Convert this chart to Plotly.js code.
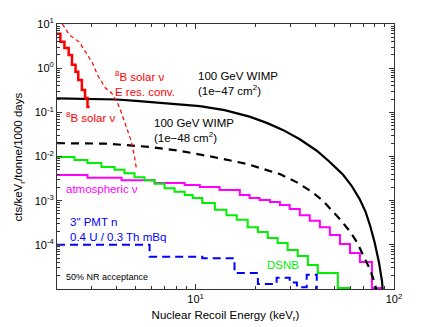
<!DOCTYPE html>
<html>
<head>
<meta charset="utf-8">
<script src="https://cdn.plot.ly/plotly-3.0.1.min.js"></script>
<style>
  body { margin: 0; background: #fff; }
  #plot { width: 436px; height: 327px; }
</style>
</head>
<body>
<div id="plot"></div>
<script>
// 100 GeV WIMP, 1e-47 cm2 (solid black)
let wimp47E = [2.0, 3.0, 4.0, 5.0, 6.0, 8.0, 10.5, 14, 18.7, 23, 27.5, 33.5, 40.8, 47, 55, 61, 67, 72, 76, 80, 84, 87, 88.5];
let wimp47R = [0.206, 0.204, 0.195, 0.182, 0.170, 0.155, 0.138, 0.112, 0.080, 0.057, 0.040, 0.0245, 0.0135, 0.0078, 0.0040, 0.0022, 0.0011, 5.5e-4, 2.6e-4, 1.1e-4, 4e-5, 1.5e-5, 6e-6];

// 100 GeV WIMP, 1e-48 cm2 (dashed black)
let wimp48E = [2.0, 3.5, 5.86, 8.3, 12.2, 18.1, 26.6, 32.4, 38, 43.8, 53.4, 60, 65, 70, 75.6, 79, 82];
let wimp48R = [0.0200, 0.0196, 0.0165, 0.0135, 0.0098, 0.0068, 0.0040, 0.0026, 0.00165, 0.00100, 3.8e-4, 2.0e-4, 1.15e-4, 5.5e-5, 2.8e-5, 1.6e-5, 9e-6];

// 8B solar neutrinos (solid red histogram)
let b8E = [2.0, 2.08, 2.18, 2.29, 2.38, 2.48, 2.56, 2.67, 2.77, 2.85, 2.92];
let b8R = [6.0, 3.97, 2.85, 1.99, 1.2, 0.83, 0.54, 0.32, 0.21, 0.132, 0.132];

// 8B solar neutrinos, energy resolution convolved (thin dashed red)
let b8convE = [2.13, 2.31, 2.59, 2.75, 3.02, 3.20, 3.51, 3.77, 4.04, 4.23, 4.43, 4.59, 4.75, 4.92, 5.04];
let b8convR = [10, 5.64, 3.91, 2.58, 1.31, 0.70, 0.355, 0.274, 0.163, 0.0966, 0.0544, 0.034, 0.0213, 0.00975, 0.00496];

// atmospheric neutrinos (magenta)
let atmE = [2.0, 2.85, 4.23, 6.21, 8.8, 10.5, 13.2, 16.7, 18.7, 21.0, 23.7, 26.6, 29.8, 33.5, 37.6, 42.3, 47.5, 53.4, 60.0, 67.3, 77.4, 87.9];
let atmR = [0.0038, 0.0033, 0.0029, 0.0025, 0.00226, 0.00204, 0.00175, 0.00135, 0.00115, 0.00104, 9.3e-4, 8.0e-4, 6.5e-4, 4.7e-4, 3.5e-4, 2.5e-4, 1.67e-4, 1.04e-4, 6.5e-5, 4.1e-5, 1.05e-5, 1.05e-5];

// diffuse supernova neutrinos (green)
let dsnbE = [2.0, 2.45, 2.85, 3.35, 3.9, 4.38, 4.92, 5.52, 6.21, 6.97, 7.83, 8.8, 9.66, 10.8, 12.5, 14.3, 16.1, 18.3, 20.6, 23.1, 25.9, 29.1, 32.7, 36.8, 41.3, 52.1, 60.0];
let dsnbR = [0.0098, 0.0083, 0.0071, 0.0058, 0.005, 0.0042, 0.0034, 0.0029, 0.0024, 0.0019, 0.0016, 0.00135, 0.00115, 8.9e-4, 6.2e-4, 4.7e-4, 3.7e-4, 2.5e-4, 1.95e-4, 1.43e-4, 1.1e-4, 7.6e-5, 5.6e-5, 3.5e-5, 2.3e-5, 1.05e-5, 1.05e-5];

// 3" PMT neutrons (dashed blue)
let pmtE = [2.0, 5.86, 10.8, 15.7, 20.6, 25.6, 29.8, 32.4, 36.3, 40.8, 42.3];
let pmtR = [1.0e-4, 5.4e-5, 5.0e-5, 2.3e-5, 1.3e-5, 1.8e-5, 1.4e-5, 1.1e-5, 2.1e-5, 8e-6, 8e-6];

// axis ticks
let yMajor = [1e-4, 1e-3, 1e-2, 1e-1, 1, 10];
let yMajorText = ["10<sup>-4</sup>", "10<sup>-3</sup>", "10<sup>-2</sup>", "10<sup>-1</sup>", "10<sup>0</sup>", "10<sup>1</sup>"];
let xMajor = [10, 100];
let xMajorText = ["10<sup>1</sup>", "10<sup>2</sup>"];

let xMinor = [];
for (let d of [1, 10]) for (let k = 2; k <= 9; k++) xMinor.push(k * d);
let yMinor = [];
for (let d of [1e-5, 1e-4, 1e-3, 1e-2, 1e-1, 1]) for (let k = 2; k <= 9; k++) yMinor.push(k * d);

let font = "Liberation Sans, Arial, Helvetica, sans-serif";

let data = [
  {x: atmE, y: atmR, mode: "lines", line: {color: "#ff00ff", width: 2, shape: "hv"}},
  {x: dsnbE, y: dsnbR, mode: "lines", line: {color: "#00ee00", width: 2, shape: "hv"}},
  {x: pmtE, y: pmtR, mode: "lines", line: {color: "#0000ff", width: 2, shape: "hv", dash: "8px,5px"}},
  {x: wimp48E, y: wimp48R, mode: "lines", line: {color: "#000", width: 2.2, dash: "8px,6px"}},
  {x: wimp47E, y: wimp47R, mode: "lines", line: {color: "#000", width: 2.2}},
  {x: b8convE, y: b8convR, mode: "lines", line: {color: "#ff0000", width: 1.2, dash: "4px,3px"}},
  {x: b8E, y: b8R, mode: "lines", line: {color: "#ff0000", width: 2.5, shape: "hv"}}
];

function note(text, x, y, color, size) {
  return {text: text, x: Math.log10(x), y: Math.log10(y), xref: "x", yref: "y",
    xanchor: "left", yanchor: "middle", align: "left", showarrow: false,
    font: {family: font, size: size || 11.5, color: color}};
}

let layout = {
  width: 436, height: 327,
  margin: {l: 57, r: 42, t: 24, b: 38},
  showlegend: false,
  paper_bgcolor: "#fff", plot_bgcolor: "#fff",
  font: {family: font, size: 11, color: "#000"},
  xaxis: {
    type: "log", range: [Math.log10(2), 2],
    tickmode: "array", tickvals: xMajor, ticktext: xMajorText,
    ticks: "inside", ticklen: 5, tickcolor: "#333", mirror: "allticks",
    showline: true, linecolor: "#333", linewidth: 1, showgrid: false, zeroline: false,
    minor: {tickmode: "array", tickvals: xMinor, ticks: "inside", ticklen: 3, tickcolor: "#333"},
    title: {text: "Nuclear Recoil Energy (keV<sub>r</sub>)", font: {size: 11.5}, standoff: 6}
  },
  yaxis: {
    type: "log", range: [-5, 1],
    tickmode: "array", tickvals: yMajor, ticktext: yMajorText,
    ticks: "inside", ticklen: 5, tickcolor: "#333", mirror: "allticks",
    showline: true, linecolor: "#333", linewidth: 1, showgrid: false, zeroline: false,
    minor: {tickmode: "array", tickvals: yMinor, ticks: "inside", ticklen: 3, tickcolor: "#333"}
  },
  annotations: [
    {text: "cts/keV<sub>r</sub>/tonne/1000 days", textangle: -90, xref: "paper", yref: "paper",
      x: -0.113, y: 0.5, xanchor: "center", yanchor: "middle", showarrow: false,
      font: {family: font, size: 11.5, color: "#000"}},
    note("<sup>8</sup>B solar ν", 2.18, 0.079, "#ff0000"),
    note("<sup>8</sup>B solar ν<br>E res. conv.", 3.81, 0.45, "#ff0000"),
    note("100 GeV WIMP<br>(1e−47 cm<sup>2</sup>)", 10, 0.45, "#000"),
    note("100 GeV WIMP<br>(1e−48 cm<sup>2</sup>)", 6.0, 0.038, "#000"),
    note("atmospheric ν", 2.18, 0.00184, "#ff00ff"),
    note("3\" PMT n<br>0.4 U / 0.3 Th mBq", 2.26, 2.23e-4, "#0000ff"),
    note("50% NR acceptance", 2.18, 1.87e-5, "#000", 9),
    note("DSNB", 22.3, 3.5e-5, "#00ee00")
  ]
};

Plotly.newPlot("plot", data, layout, {staticPlot: true});
</script>
</body>
</html>
